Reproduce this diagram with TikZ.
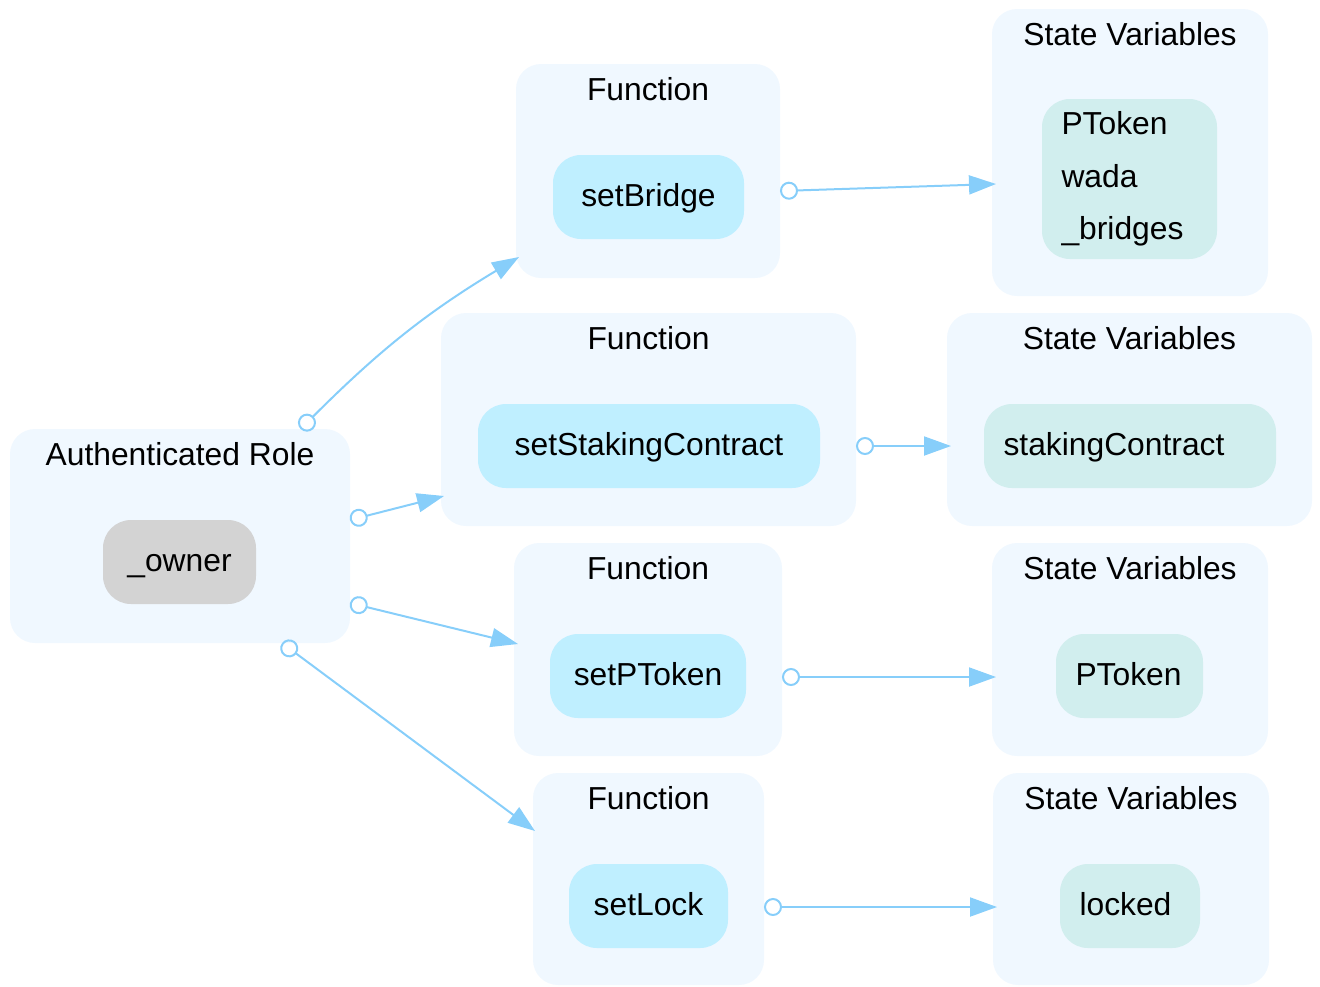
\documentclass[tikz,border=0pt]{standalone}
\usepackage{fontspec}
\setmainfont{Liberation Sans}
\usetikzlibrary{arrows.meta}

\definecolor{clusterfill}{HTML}{F0F8FF}
\definecolor{funcfill}{HTML}{BFEFFF}
\definecolor{varfill}{HTML}{D1EEEE}
\definecolor{rolefill}{HTML}{D3D3D3}
\definecolor{edgecol}{HTML}{87CEFA}

\tikzset{
  every node/.style={inner sep=0pt, outer sep=0pt, font=\fontsize{31.8}{52.5}\selectfont},
  cluster/.style={fill=clusterfill, rounded corners=25pt},
  clabel/.style={anchor=base},
  item/.style={rounded corners=28pt, minimum height=84pt, text height=24pt, text depth=6pt},
  funcbox/.style={item, fill=funcfill},
  rolebox/.style={item, fill=rolefill},
  varbox/.style={item, fill=varfill, align=left, inner xsep=19.5pt},
  link/.style={draw=edgecol, line width=2pt,
    {Circle[open, length=18pt, width=18pt]}-{Triangle[length=27pt, width=19pt]}},
}

\begin{document}
\begin{tikzpicture}[x=1pt, y=-1pt]
\useasboundingbox (0,0) rectangle (1320,986);

% groups
\node[cluster, minimum width=340pt, minimum height=214pt] (auth) at (180,536) {};
\node[cluster, minimum width=264pt, minimum height=214pt] (f1) at (648,171) {};
\node[cluster, minimum width=276pt, minimum height=287pt] (sv1) at (1130,152.5) {};
\node[cluster, minimum width=415pt, minimum height=213pt] (f2) at (648.5,419.5) {};
\node[cluster, minimum width=365pt, minimum height=213pt] (sv2) at (1129.5,419.5) {};
\node[cluster, minimum width=268pt, minimum height=213pt] (f3) at (648,649.5) {};
\node[cluster, minimum width=276pt, minimum height=213pt] (sv3) at (1130,649.5) {};
\node[cluster, minimum width=231pt, minimum height=212pt] (f4) at (648.5,879) {};
\node[cluster, minimum width=276pt, minimum height=212pt] (sv4) at (1131,879) {};

% group titles
\node[clabel] (authT) at ([yshift=-36pt]auth.north) {Authenticated Role};
\node[clabel] (f1T) at ([yshift=-36pt]f1.north) {Function};
\node[clabel] (sv1T) at ([yshift=-36pt]sv1.north) {State Variables};
\node[clabel] (f2T) at ([yshift=-36pt]f2.north) {Function};
\node[clabel] (sv2T) at ([yshift=-36pt]sv2.north) {State Variables};
\node[clabel] (f3T) at ([yshift=-36pt]f3.north) {Function};
\node[clabel] (sv3T) at ([yshift=-36pt]sv3.north) {State Variables};
\node[clabel] (f4T) at ([yshift=-36pt]f4.north) {Function};
\node[clabel] (sv4T) at ([yshift=-36pt]sv4.north) {State Variables};

% members
\node[rolebox, minimum width=153pt] (owner) at (179.5,562) {\_owner};
\node[funcbox, minimum width=191pt] (setBridge) at (648.5,197) {setBridge};
\node[funcbox, minimum width=342pt] (setStaking) at (649,446) {setStakingContract};
\node[funcbox, minimum width=196pt] (setPToken) at (648,676) {setPToken};
\node[funcbox, minimum width=159pt] (setLock) at (648.5,906) {setLock};
\node[varbox, text height=, text depth=, text width=136pt, minimum height=160pt] (vars1) at (1129.5,179) {PToken\\wada\\\_bridges};
\node[varbox, text width=253pt] (vars2) at (1130,446) {stakingContract};
\node[varbox, text width=108pt] (vars3) at (1129.5,676) {PToken};
\node[varbox, text width=101pt] (vars4) at (1130,906) {locked};

% role to functions
\draw[link] ([xshift=120.6pt]auth.north) to[out=45, in=211] ([xshift=3pt, yshift=21pt]f1.south west);
\draw[link] ([yshift=16pt]auth.east) -- ([xshift=3pt, yshift=30pt]f2.south west);
\draw[link] ([yshift=-67pt]auth.east) -- ([xshift=4pt, yshift=5.5pt]f3.west);
\draw[link] ([xshift=102pt]auth.south) -- ([xshift=2pt, yshift=48pt]f4.west);

% functions to state variables
\draw[link] ([yshift=-20pt]f1.east) -- ([xshift=4pt, yshift=-31.5pt]sv1.west);
\draw[link] ([yshift=-26.5pt]f2.east) -- ([xshift=4pt, yshift=-26.5pt]sv2.west);
\draw[link] ([yshift=-27.5pt]f3.east) -- ([xshift=4pt, yshift=-27.5pt]sv3.west);
\draw[link] ([yshift=-28pt]f4.east) -- ([xshift=4pt, yshift=-28pt]sv4.west);
\end{tikzpicture}
\end{document}
